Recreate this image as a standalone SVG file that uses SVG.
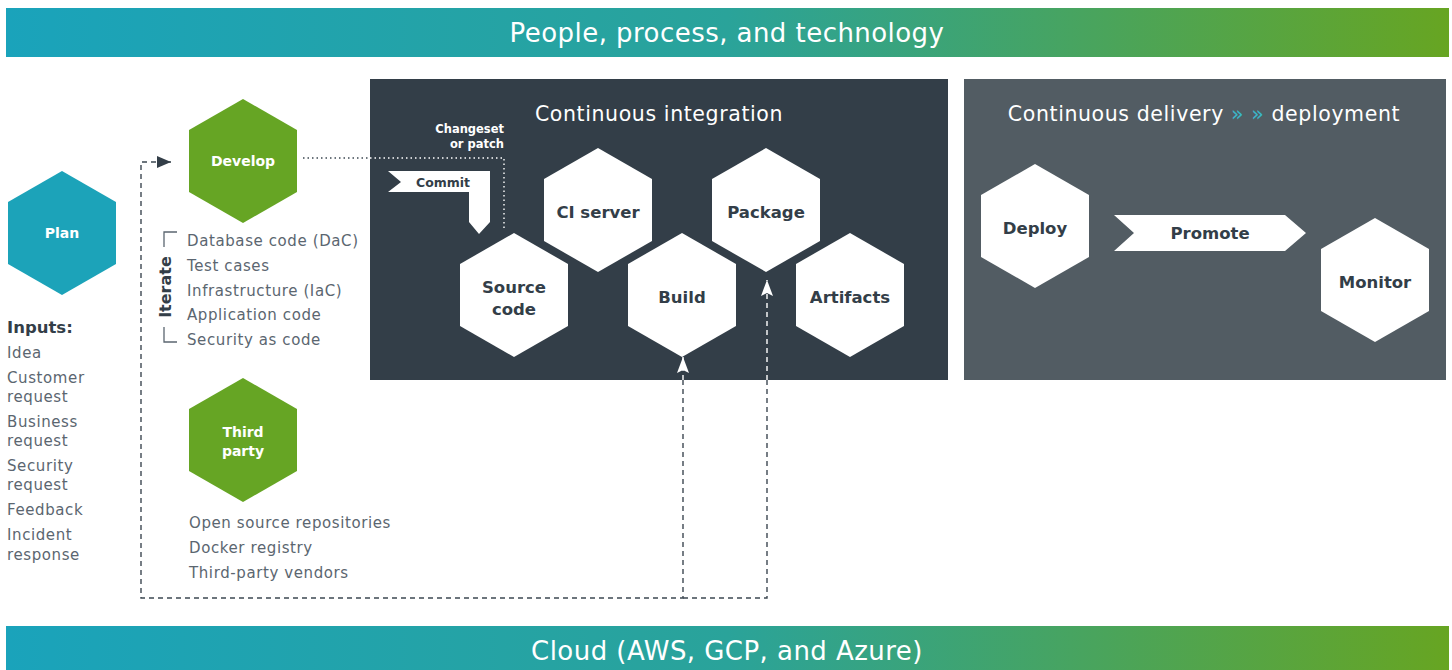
<svg xmlns="http://www.w3.org/2000/svg" width="1452" height="670" viewBox="0 0 1452 670">
<defs>
<linearGradient id="band" x1="0" y1="0" x2="1" y2="0">
<stop offset="0" stop-color="#1aa3bb"/>
<stop offset="0.5" stop-color="#2aa39a"/>
<stop offset="1" stop-color="#67a522"/>
</linearGradient>
<polygon id="hex" points="0,-62 54,-31 54,31 0,62 -54,31 -54,-31"/>
<marker id="arrDark" viewBox="0 0 14 12" refX="14" refY="6" markerWidth="14" markerHeight="12" markerUnits="userSpaceOnUse" orient="auto">
<path d="M0,0 L14,6 L0,12 Z" fill="#333e48"/>
</marker>
<marker id="arrWhite" viewBox="0 0 16 12" refX="16" refY="6" markerWidth="16" markerHeight="12" markerUnits="userSpaceOnUse" orient="auto">
<path d="M0,0 L16,6 L0,12 L3,6 Z" fill="#ffffff"/>
</marker>
</defs>
<style>
text{font-family:"DejaVu Sans","Open Sans",sans-serif}
.band{font-size:26px;letter-spacing:0.45px;fill:#fff;text-anchor:middle}
.ptitle{font-size:20.5px;letter-spacing:0.6px;fill:#fff;text-anchor:middle}
.hl{font-size:16.5px;font-weight:bold;fill:#333e48;text-anchor:middle}
.hlw{font-size:14px;font-weight:bold;fill:#fff;text-anchor:middle}
.list{font-size:15px;letter-spacing:0.6px;fill:#5b6670}
.inp{font-size:16.5px;font-weight:bold;fill:#333e48}
.small{font-size:11.5px;font-weight:bold;fill:#fff;text-anchor:end}
.dashD{fill:none;stroke:#3d4852;stroke-width:1.4;stroke-dasharray:5 4}
.dashW{fill:none;stroke:#fff;stroke-width:1.4;stroke-dasharray:5 4}
.dotD{fill:none;stroke:#3d4852;stroke-width:1.4;stroke-dasharray:1.5 3}
.dotW{fill:none;stroke:#fff;stroke-width:1.4;stroke-dasharray:1.5 3}
.brk{fill:none;stroke:#5b6670;stroke-width:1.3}
</style>

<g id="band-top">
<rect x="6" y="8" width="1443" height="49" fill="url(#band)"/>
<text class="band" x="727" y="42">People, process, and technology</text>
</g>
<g id="band-bottom">
<rect x="6" y="626" width="1443" height="44" fill="url(#band)"/>
<text class="band" x="727" y="660">Cloud (AWS, GCP, and Azure)</text>
</g>

<g id="panel-ci">
<rect x="370" y="79" width="578" height="301" fill="#333e48"/>
<text class="ptitle" x="659" y="121">Continuous integration</text>
</g>
<g id="panel-cd">
<rect x="964" y="79" width="482" height="301" fill="#525c63"/>
<text class="ptitle" x="1204" y="121">Continuous delivery <tspan fill="#3ab5c8">» »</tspan> deployment</text>
</g>

<g id="connectors">
<path class="dashD" d="M683,380 V598 H141 V162 H171" marker-end="url(#arrDark)"/>
<path class="dashW" d="M683,380 V357" marker-end="url(#arrWhite)"/>
<path class="dashD" d="M683,598 H767 V380"/>
<path class="dashW" d="M767,380 V280" marker-end="url(#arrWhite)"/>
<path class="dotD" d="M303,158 H370"/>
<path class="dotW" d="M370,158 H504 V228"/>
</g>

<g id="node-plan">
<use href="#hex" x="62" y="233" fill="#1ca3b9"/>
<text class="hlw" x="62" y="238">Plan</text>
</g>
<g id="inputs">
<text class="inp" x="7" y="333">Inputs:</text>
<text class="list" x="7" y="358">Idea</text>
<text class="list" x="7" y="383">Customer</text>
<text class="list" x="7" y="402">request</text>
<text class="list" x="7" y="427">Business</text>
<text class="list" x="7" y="446">request</text>
<text class="list" x="7" y="471">Security</text>
<text class="list" x="7" y="490">request</text>
<text class="list" x="7" y="515">Feedback</text>
<text class="list" x="7" y="540">Incident</text>
<text class="list" x="7" y="560">response</text>
</g>

<g id="node-develop">
<use href="#hex" x="243" y="161" fill="#66a524"/>
<text class="hlw" x="243" y="166">Develop</text>
</g>
<g id="iterate">
<path class="brk" d="M177,232 H164 V247"/>
<path class="brk" d="M164,327 V342 H177"/>
<text x="171" y="287" transform="rotate(-90 171 287)" style="font-size:16px;font-weight:bold;fill:#333e48;text-anchor:middle">Iterate</text>
<text class="list" x="187" y="246">Database code (DaC)</text>
<text class="list" x="187" y="271">Test cases</text>
<text class="list" x="187" y="296">Infrastructure (IaC)</text>
<text class="list" x="187" y="320">Application code</text>
<text class="list" x="187" y="345">Security as code</text>
</g>

<g id="node-thirdparty">
<use href="#hex" x="243" y="440" fill="#66a524"/>
<text class="hlw" x="243" y="437">Third</text>
<text class="hlw" x="243" y="456">party</text>
</g>
<g id="thirdparty-list">
<text class="list" x="189" y="528">Open source repositories</text>
<text class="list" x="189" y="553">Docker registry</text>
<text class="list" x="189" y="578">Third-party vendors</text>
</g>

<g id="commit">
<polygon points="388,171 490,171 490,222 479,234 469,222 469,192 388,192 401,182" fill="#fff"/>
<text x="443" y="187" style="font-size:12.5px;font-weight:bold;fill:#333e48;text-anchor:middle">Commit</text>
<text class="small" x="504" y="133">Changeset</text>
<text class="small" x="504" y="148">or patch</text>
</g>

<g id="node-ciserver">
<use href="#hex" x="598" y="210" fill="#fff"/>
<text class="hl" x="598" y="218">CI server</text>
</g>
<g id="node-package">
<use href="#hex" x="766" y="210" fill="#fff"/>
<text class="hl" x="766" y="218">Package</text>
</g>
<g id="node-sourcecode">
<use href="#hex" x="514" y="295" fill="#fff"/>
<text class="hl" x="514" y="293">Source</text>
<text class="hl" x="514" y="315">code</text>
</g>
<g id="node-build">
<use href="#hex" x="682" y="295" fill="#fff"/>
<text class="hl" x="682" y="303">Build</text>
</g>
<g id="node-artifacts">
<use href="#hex" x="850" y="295" fill="#fff"/>
<text class="hl" x="850" y="303">Artifacts</text>
</g>

<g id="node-deploy">
<use href="#hex" x="1035" y="226" fill="#fff"/>
<text class="hl" x="1035" y="234">Deploy</text>
</g>
<g id="promote">
<polygon points="1114,215 1285,215 1306,233 1285,251 1114,251 1134,233" fill="#fff"/>
<text class="hl" x="1210" y="239">Promote</text>
</g>
<g id="node-monitor">
<use href="#hex" x="1375" y="280" fill="#fff"/>
<text class="hl" x="1375" y="288">Monitor</text>
</g>
</svg>
